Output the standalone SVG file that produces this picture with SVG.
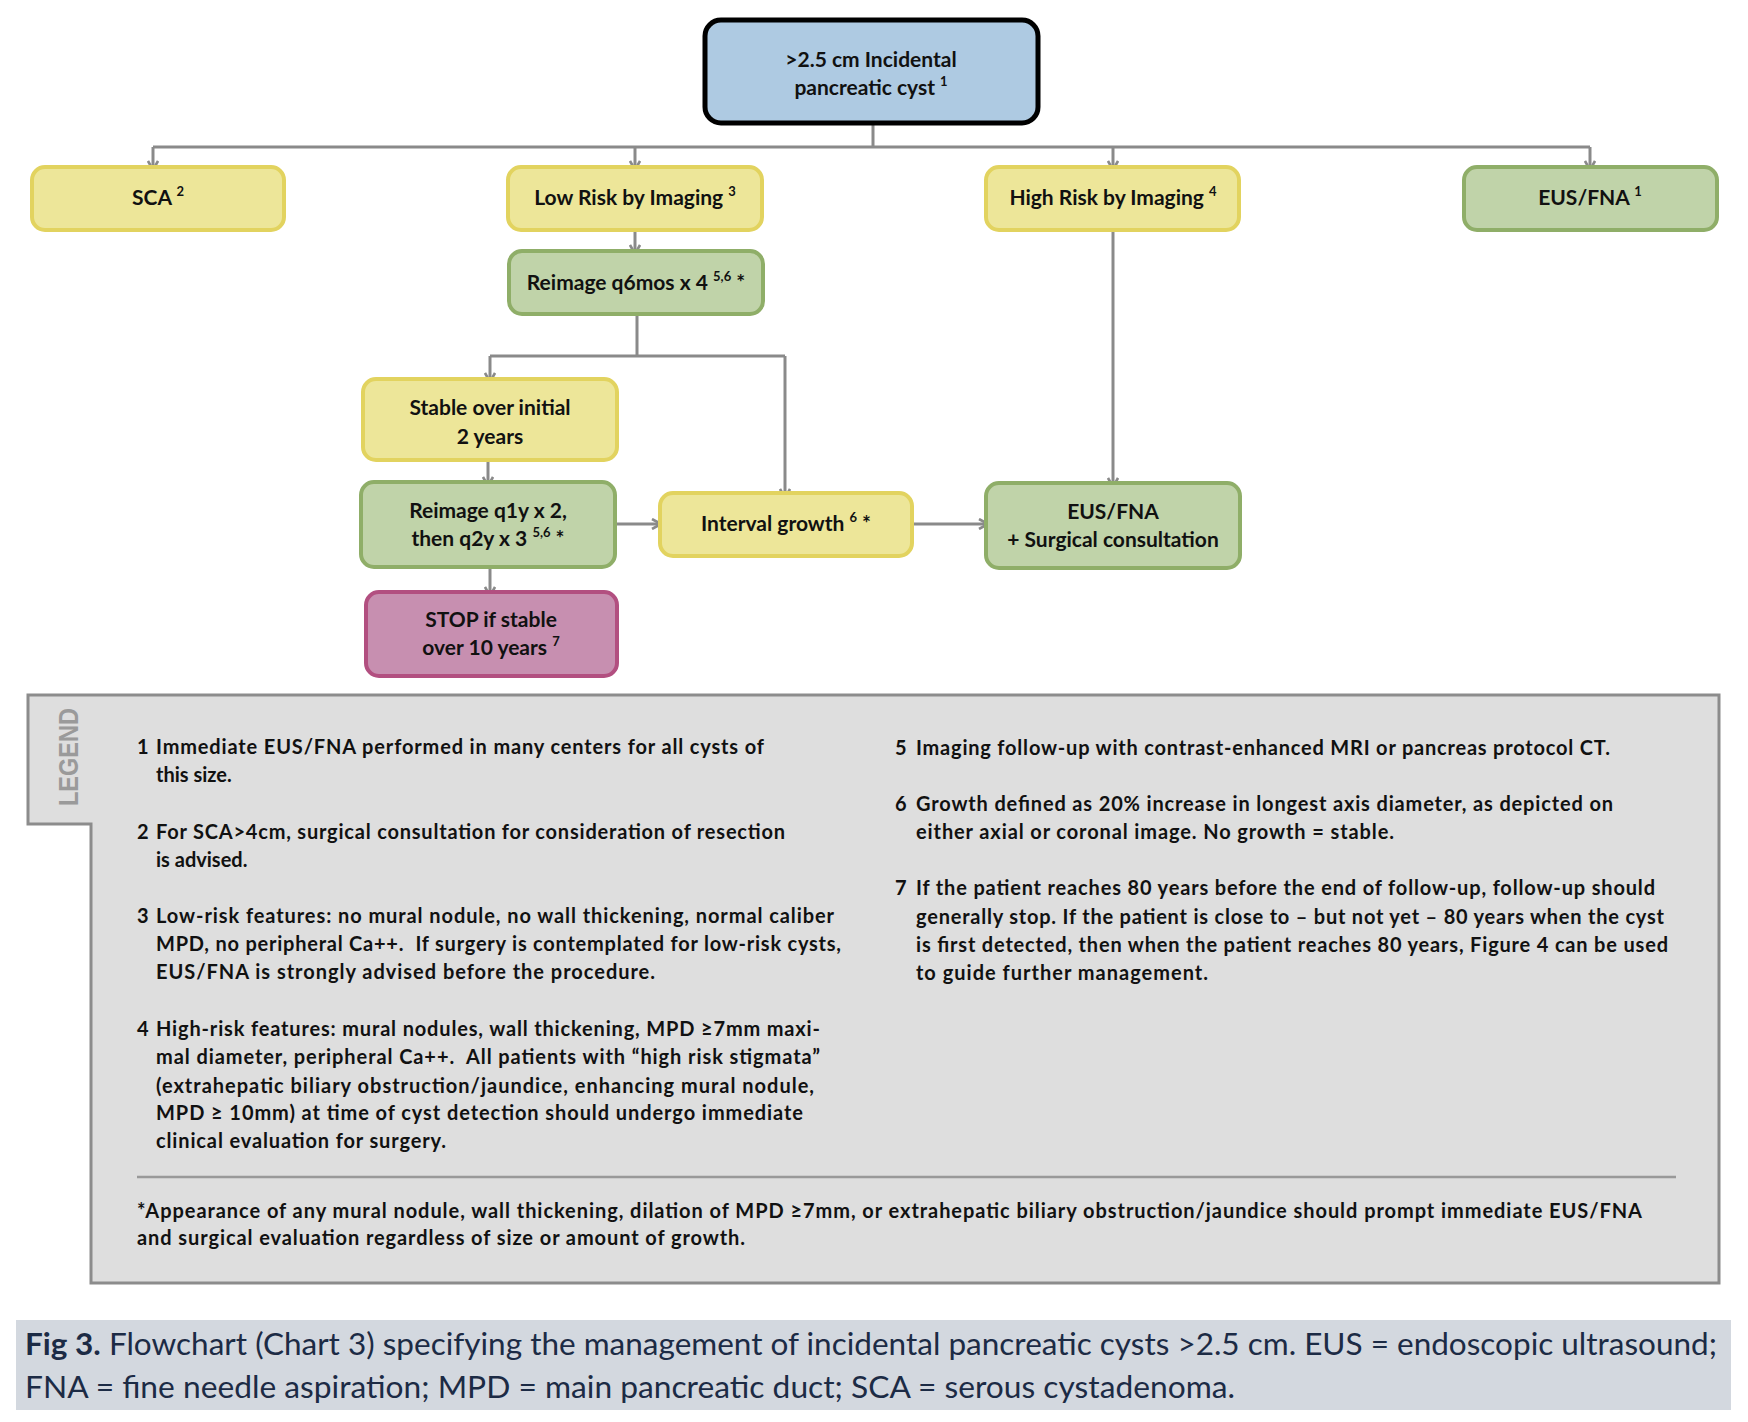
<svg xmlns="http://www.w3.org/2000/svg" width="1748" height="1422" viewBox="0 0 1748 1422">
<style>
.nt{font-family:Lato,"Open Sans","Liberation Sans",sans-serif;font-weight:700;font-size:21px;fill:#111;text-anchor:middle}
.sup{font-size:13px}
.yel{fill:#ede699;stroke:#e2d35f;stroke-width:4}
.grn{fill:#c0d3a9;stroke:#8fae68;stroke-width:4}
.blu{fill:#aecae2;stroke:#000;stroke-width:5}
.pnk{fill:#c78fb0;stroke:#b24f80;stroke-width:4}
.cn{fill:none;stroke:#8a8a8a;stroke-width:3}
.lg{font-family:Lato,"Open Sans","Liberation Sans",sans-serif;font-weight:700;font-size:20px;fill:#111}
.cap{font-family:Lato,"Open Sans","Liberation Sans",sans-serif;font-size:30px;fill:#1c2b45}
</style>
<defs>
<marker id="ah" viewBox="0 0 12 12" refX="11" refY="6" markerWidth="12" markerHeight="12" markerUnits="userSpaceOnUse" orient="auto">
<path d="M2,1 L11,6 L2,11" fill="none" stroke="#8a8a8a" stroke-width="2.6"/>
</marker>
</defs>
<rect width="1748" height="1422" fill="#fff"/>

<g id="connectors">
<path class="cn" d="M873,125 V147 M153,147 H1590 M637,315 V356 M490,356 H785"/>
<path class="cn" d="M153,147 V170" marker-end="url(#ah)"/>
<path class="cn" d="M635,147 V170" marker-end="url(#ah)"/>
<path class="cn" d="M1113,147 V170" marker-end="url(#ah)"/>
<path class="cn" d="M1590,147 V170" marker-end="url(#ah)"/>
<path class="cn" d="M635,231 V254" marker-end="url(#ah)"/>
<path class="cn" d="M490,356 V382" marker-end="url(#ah)"/>
<path class="cn" d="M785,356 V498" marker-end="url(#ah)"/>
<path class="cn" d="M488,461 V486" marker-end="url(#ah)"/>
<path class="cn" d="M616,524 H661" marker-end="url(#ah)"/>
<path class="cn" d="M913,524 H988" marker-end="url(#ah)"/>
<path class="cn" d="M1113,231 V487" marker-end="url(#ah)"/>
<path class="cn" d="M490,568 V596" marker-end="url(#ah)"/>
</g>

<g id="n-top">
<rect class="blu" x="705" y="20" width="333" height="103" rx="16"/>
<text class="nt" x="871" y="67">&gt;2.5 cm Incidental</text>
<text class="nt" x="871" y="95">pancreatic cyst <tspan class="sup" dy="-9">1</tspan></text>
</g>
<g id="n-sca">
<rect class="yel" x="32" y="167" width="252" height="63" rx="13"/>
<text class="nt" x="158" y="205">SCA <tspan class="sup" dy="-9">2</tspan></text>
</g>
<g id="n-low">
<rect class="yel" x="508" y="167" width="254" height="63" rx="13"/>
<text class="nt" x="635" y="205">Low Risk by Imaging <tspan class="sup" dy="-9">3</tspan></text>
</g>
<g id="n-high">
<rect class="yel" x="986" y="167" width="253" height="63" rx="13"/>
<text class="nt" x="1113" y="205">High Risk by Imaging <tspan class="sup" dy="-9">4</tspan></text>
</g>
<g id="n-eus">
<rect class="grn" x="1464" y="167" width="253" height="63" rx="13"/>
<text class="nt" x="1590" y="205">EUS/FNA <tspan class="sup" dy="-9">1</tspan></text>
</g>
<g id="n-reimage6">
<rect class="grn" x="509" y="251" width="254" height="63" rx="13"/>
<text class="nt" x="636" y="290">Reimage q6mos x 4 <tspan class="sup" dy="-9">5,6</tspan><tspan dy="9"> *</tspan></text>
</g>
<g id="n-stable">
<rect class="yel" x="363" y="379" width="254" height="81" rx="13"/>
<text class="nt" x="490" y="415">Stable over initial</text>
<text class="nt" x="490" y="444">2 years</text>
</g>
<g id="n-reimage1">
<rect class="grn" x="361" y="482" width="254" height="85" rx="13"/>
<text class="nt" x="488" y="518">Reimage q1y x 2,</text>
<text class="nt" x="488" y="546">then q2y x 3 <tspan class="sup" dy="-9">5,6</tspan><tspan dy="9"> *</tspan></text>
</g>
<g id="n-interval">
<rect class="yel" x="660" y="493" width="252" height="63" rx="13"/>
<text class="nt" x="786" y="531">Interval growth <tspan class="sup" dy="-9">6</tspan><tspan dy="9"> *</tspan></text>
</g>
<g id="n-eussurg">
<rect class="grn" x="986" y="483" width="254" height="85" rx="13"/>
<text class="nt" x="1113" y="519">EUS/FNA</text>
<text class="nt" x="1113" y="547">+ Surgical consultation</text>
</g>
<g id="n-stop">
<rect class="pnk" x="366" y="592" width="251" height="84" rx="13"/>
<text class="nt" x="491" y="627">STOP if stable</text>
<text class="nt" x="491" y="655">over 10 years <tspan class="sup" dy="-9">7</tspan></text>
</g>

<g id="legend">
<path d="M28,695 H1719 V1283 H91 V824 H28 Z" fill="#dedede" stroke="#8c8c8c" stroke-width="3"/>
<text transform="translate(78,757) rotate(-90)" text-anchor="middle" font-family="'Liberation Sans',Arial,sans-serif" font-weight="700" font-size="28" fill="#9a9a9a" textLength="98" lengthAdjust="spacingAndGlyphs">LEGEND</text>
<g class="lg">
<text x="137" y="754">1</text>
<text x="156" y="754" textLength="608">Immediate EUS/FNA performed in many centers for all cysts of</text>
<text x="156" y="782">this size.</text>
<text x="137" y="839">2</text>
<text x="156" y="839" textLength="629">For SCA&gt;4cm, surgical consultation for consideration of resection</text>
<text x="156" y="867">is advised.</text>
<text x="137" y="923">3</text>
<text x="156" y="923" textLength="678">Low-risk features: no mural nodule, no wall thickening, normal caliber</text>
<text x="156" y="951" textLength="685" xml:space="preserve">MPD, no peripheral Ca++.  If surgery is contemplated for low-risk cysts,</text>
<text x="156" y="979" textLength="499">EUS/FNA is strongly advised before the procedure.</text>
<text x="137" y="1036">4</text>
<text x="156" y="1036" textLength="664">High-risk features: mural nodules, wall thickening, MPD ≥7mm maxi-</text>
<text x="156" y="1064" textLength="664" xml:space="preserve">mal diameter, peripheral Ca++.  All patients with “high risk stigmata”</text>
<text x="156" y="1093" textLength="658">(extrahepatic biliary obstruction/jaundice, enhancing mural nodule,</text>
<text x="156" y="1120" textLength="647">MPD ≥ 10mm) at time of cyst detection should undergo immediate</text>
<text x="156" y="1148" textLength="290">clinical evaluation for surgery.</text>
<text x="895" y="755">5</text>
<text x="916" y="755" textLength="694">Imaging follow-up with contrast-enhanced MRI or pancreas protocol CT.</text>
<text x="895" y="811">6</text>
<text x="916" y="811" textLength="697">Growth defined as 20% increase in longest axis diameter, as depicted on</text>
<text x="916" y="839" textLength="478">either axial or coronal image. No growth = stable.</text>
<text x="895" y="895">7</text>
<text x="916" y="895" textLength="739">If the patient reaches 80 years before the end of follow-up, follow-up should</text>
<text x="916" y="924" textLength="748">generally stop. If the patient is close to – but not yet – 80 years when the cyst</text>
<text x="916" y="952" textLength="752">is first detected, then when the patient reaches 80 years, Figure 4 can be used</text>
<text x="916" y="980" textLength="292">to guide further management.</text>
<text x="137" y="1218" textLength="1505">*Appearance of any mural nodule, wall thickening, dilation of MPD ≥7mm, or extrahepatic biliary obstruction/jaundice should prompt immediate EUS/FNA</text>
<text x="137" y="1245" textLength="608">and surgical evaluation regardless of size or amount of growth.</text>
</g>
<line x1="137" y1="1177" x2="1676" y2="1177" stroke="#999" stroke-width="2.5"/>
</g>

<g id="caption">
<rect x="16" y="1320" width="1715" height="90" fill="#d3d8df"/>
<text class="cap" x="25" y="1355" textLength="1692" lengthAdjust="spacingAndGlyphs"><tspan font-weight="700">Fig 3.</tspan> Flowchart (Chart 3) specifying the management of incidental pancreatic cysts &gt;2.5 cm. EUS = endoscopic ultrasound;</text>
<text class="cap" x="25" y="1398" textLength="1210" lengthAdjust="spacingAndGlyphs">FNA = fine needle aspiration; MPD = main pancreatic duct; SCA = serous cystadenoma.</text>
</g>
</svg>
